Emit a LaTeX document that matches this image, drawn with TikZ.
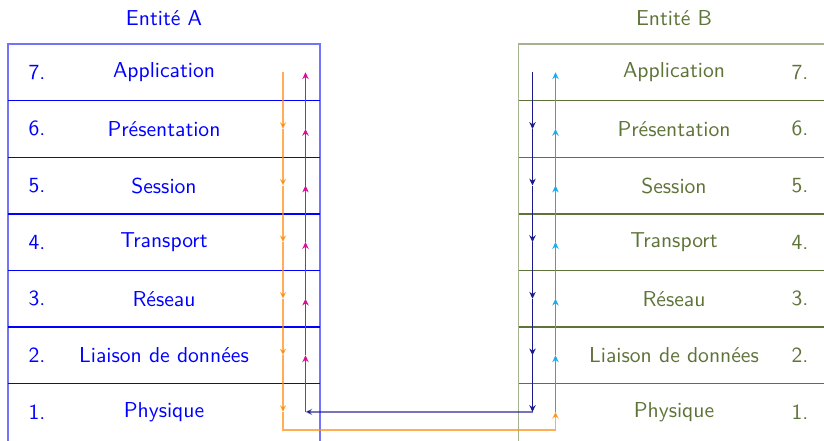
\documentclass[tikz,border=0pt]{standalone}
\usetikzlibrary{arrows.meta}
\renewcommand{\familydefault}{\sfdefault}
\definecolor{olv}{rgb}{0.37,0.45,0.22}
\definecolor{orng}{rgb}{1,0.55,0.05}
\definecolor{cyn}{rgb}{0.1,0.68,0.92}
\definecolor{nvy}{rgb}{0.1,0.1,0.55}
\definecolor{mgt}{rgb}{0.85,0.05,0.6}
\tikzset{
  lbl/.style={font=\fontsize{10.8}{12}\selectfont, inner sep=0pt},
  frame/.style={line width=0.7pt, draw opacity=0.55},
  sep/.style={line width=0.7pt},
  flow/.style={line width=0.6pt, -{Stealth[length=3.4pt,width=3.2pt]}},
}
\begin{document}
\begin{tikzpicture}[x=0.5pt,y=-0.5pt]
\useasboundingbox (0,0) rectangle (824,440);
% titles
\node[lbl, text=blue] (tA) at (164,18) {Entité A};
\node[lbl, text=olv] (tB) at (674,18) {Entité B};
% frames and layer separators
\draw[frame, blue] (8,444) |- (320,44) -- (320,444);
\draw[frame, olv] (518.5,444) |- (830,44);
\foreach \k in {1,...,6}{
  \draw[sep, blue] (8,{44+56.6*\k}) -- (320,{44+56.6*\k});
  \draw[sep, olv] (518.5,{44+56.6*\k}) -- (830,{44+56.6*\k});
}
% layer labels and flow points
\foreach \i/\name [count=\k from 0] in {7/Application,6/Présentation,5/Session,4/Transport,3/Réseau,2/Liaison de données,1/Physique}{
  \pgfmathsetmacro{\yc}{72.3+56.6*\k}
  \node[lbl, text=blue] (nA\i) at (37,\yc) {\i.};
  \node[lbl, text=blue] (lA\i) at (164,\yc) {\name};
  \node[lbl, text=olv] (lB\i) at (674,\yc) {\name};
  \node[lbl, text=olv] (nB\i) at (800,\yc) {\i.};
  \coordinate (oA\i) at (283,\yc);
  \coordinate (mA\i) at (305.5,\yc);
  \coordinate (vB\i) at (532.5,\yc);
  \coordinate (cB\i) at (555.5,\yc);
}
\coordinate (low) at (283,430);
% A sends down its stack, across to B, then up B's stack
\foreach \a/\b in {7/6,6/5,5/4,4/3,3/2,2/1}{
  \draw[flow, orng, draw opacity=0.7] (oA\a) -- (oA\b);
  \draw[flow, nvy] (vB\a) -- (vB\b);
}
\draw[flow, orng, draw opacity=0.7] (oA1) -- (low) -| (cB1);
\draw[flow, nvy, draw opacity=0.6] (vB1) -- (mA1);
\foreach \a/\b in {1/2,2/3,3/4,4/5,5/6,6/7}{
  \draw[flow, cyn] (cB\a) -- (cB\b);
  \draw[flow, mgt] (mA\a) -- (mA\b);
}
\end{tikzpicture}
\end{document}
